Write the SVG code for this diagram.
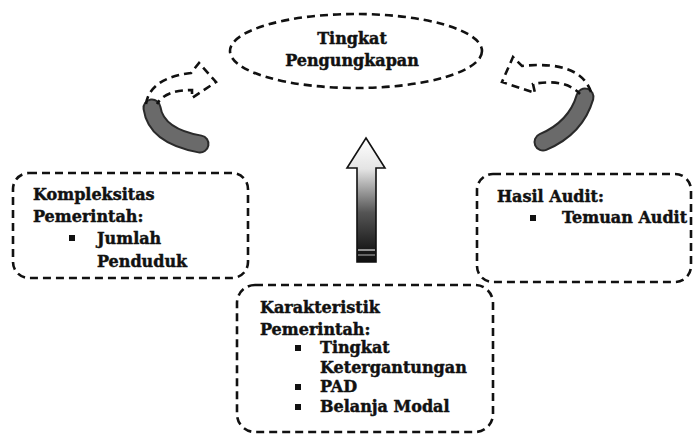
<svg xmlns="http://www.w3.org/2000/svg" width="695" height="438" viewBox="0 0 695 438">
<style>
.dash{fill:none;stroke:#111;stroke-width:2.6;stroke-dasharray:8 5}
.t{font-family:"DejaVu Serif","Liberation Serif",serif;font-weight:bold;font-size:16px;fill:#111;stroke:#111;stroke-width:0.45}
.b{fill:#111}
.band{fill:none;stroke:#6a6a6a;stroke-width:15;stroke-linecap:round}
.bandedge{fill:none;stroke:#2a2a2a;stroke-width:19;stroke-linecap:round}
</style>
<defs>
<linearGradient id="g" x1="0" y1="0" x2="0" y2="1">
<stop offset="0" stop-color="#ffffff"/>
<stop offset="0.25" stop-color="#e4e4e4"/>
<stop offset="0.6" stop-color="#555"/>
<stop offset="0.9" stop-color="#1a1a1a"/>
<stop offset="1" stop-color="#111"/>
</linearGradient>
</defs>
<rect width="695" height="438" fill="#fff"/>

<g id="tingkat-pengungkapan">
<ellipse class="dash" cx="356" cy="51" rx="126" ry="37"/>
<text class="t" x="352" y="44" text-anchor="middle">Tingkat</text>
<text class="t" x="352" y="66" text-anchor="middle">Pengungkapan</text>
</g>

<g id="kompleksitas">
<rect class="dash" x="13" y="173" width="235" height="105" rx="16"/>
<text class="t" x="33" y="200">Kompleksitas</text>
<text class="t" x="33" y="222">Pemerintah:</text>
<rect class="b" x="69" y="235" width="6" height="6"/>
<text class="t" x="97" y="244">Jumlah</text>
<text class="t" x="97" y="267">Penduduk</text>
</g>

<g id="hasil-audit">
<rect class="dash" x="477" y="174" width="214" height="108" rx="16"/>
<text class="t" x="497" y="202">Hasil Audit:</text>
<rect class="b" x="530" y="215" width="6" height="6"/>
<text class="t" x="562" y="223">Temuan Audit</text>
</g>

<g id="karakteristik">
<rect class="dash" x="237" y="285" width="256" height="147" rx="18"/>
<text class="t" x="260" y="313">Karakteristik</text>
<text class="t" x="260" y="335">Pemerintah:</text>
<rect class="b" x="295" y="345" width="6" height="6"/>
<text class="t" x="320" y="353">Tingkat</text>
<text class="t" x="320" y="373">Ketergantungan</text>
<rect class="b" x="295" y="384" width="6" height="6"/>
<text class="t" x="320" y="392">PAD</text>
<rect class="b" x="295" y="404" width="6" height="6"/>
<text class="t" x="320" y="412">Belanja Modal</text>
</g>

<g id="connectors">
<g id="arrow-up">
<path d="M366,138 L385,168 L376,168 L376,262 L357,262 L357,168 L347,168 Z" fill="url(#g)" stroke="#111" stroke-width="1.6" stroke-linejoin="miter"/>
<line x1="358" y1="250" x2="375" y2="250" stroke="#bbb" stroke-width="1.5"/>
<line x1="358" y1="255" x2="375" y2="255" stroke="#999" stroke-width="1.2"/>
</g>
<g id="arrow-left">
<path class="bandedge" d="M152,108 Q156,136 200,144"/>
<path class="band" d="M152,108 Q156,136 200,144"/>
<path class="dash" d="M146,104 Q150,78 191,73 L199,63 L216,82 L192,98 L192,90 Q165,90 157,104"/>
</g>
<g id="arrow-right">
<path class="bandedge" d="M585,97 Q576,128 543,142"/>
<path class="band" d="M585,97 Q576,128 543,142"/>
<path class="dash" d="M591,92 Q580,60 522,66 L513,57 L502,82 L535,93 L533,84 Q565,78 580,94"/>
</g>
</g>
</svg>
